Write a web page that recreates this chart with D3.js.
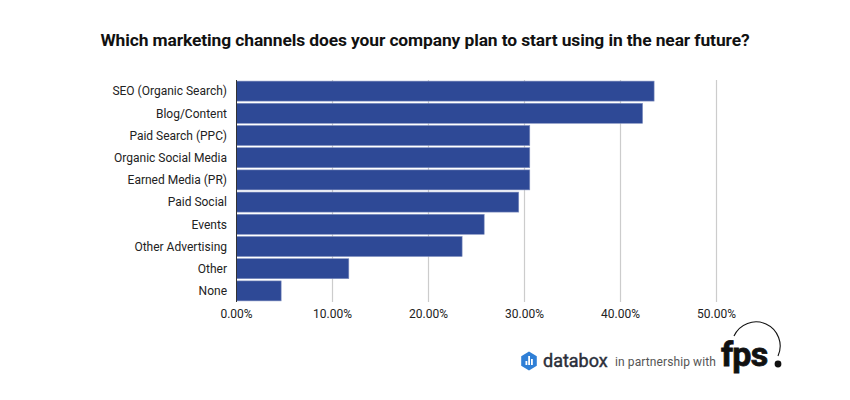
<!DOCTYPE html>
<html>
<head>
<meta charset="utf-8">
<script src="https://cdn.jsdelivr.net/npm/d3@7"></script>
<style>
  body { margin: 0; background: #fff; }
  svg { display: block; font-family: Roboto, sans-serif; }
</style>
</head>
<body>
<svg id="chart" width="850" height="400"></svg>
<script>
const categories = ["SEO (Organic Search)", "Blog/Content", "Paid Search (PPC)", "Organic Social Media",
  "Earned Media (PR)", "Paid Social", "Events", "Other Advertising", "Other", "None"]
const values = [0.435, 0.423, 0.3055, 0.3055, 0.3055, 0.294, 0.258, 0.235, 0.117, 0.0465]
const ticks = [0, 0.1, 0.2, 0.3, 0.4, 0.5]

const svg = d3.select("#chart")
const x = d3.scaleLinear().domain([0, 0.5]).range([236.5, 716.5])
const y = d3.scaleBand().domain(categories).range([80, 302]).paddingInner(0.1).paddingOuter(0.05)

// title
svg.append("text")
  .attr("x", 425).attr("y", 46)
  .attr("text-anchor", "middle")
  .attr("font-size", 17.4).attr("font-weight", "bold").attr("fill", "#111")
  .attr("letter-spacing", -0.1)
  .text("Which marketing channels does your company plan to start using in the near future?")

// grid
svg.append("g").selectAll("line")
  .data(ticks.slice(1))
  .join("line")
  .attr("x1", d => x(d)).attr("x2", d => x(d))
  .attr("y1", 80).attr("y2", 302)
  .attr("stroke", "#ccc").attr("stroke-width", 1.2)

// bars
svg.append("g").selectAll("rect")
  .data(values)
  .join("rect")
  .attr("x", x(0))
  .attr("y", (d, i) => y(categories[i]))
  .attr("width", d => x(d) - x(0))
  .attr("height", y.bandwidth())
  .attr("fill", "#2e4996")
  .attr("stroke", "#7f8fbf").attr("stroke-width", 0.6)

// left axis line
svg.append("line")
  .attr("x1", x(0)).attr("x2", x(0)).attr("y1", 80).attr("y2", 302)
  .attr("stroke", "#333").attr("stroke-width", 1)

// category labels
svg.append("g").selectAll("text")
  .data(categories)
  .join("text")
  .attr("x", 227)
  .attr("y", d => y(d) + y.bandwidth() / 2)
  .attr("dy", "0.35em")
  .attr("text-anchor", "end")
  .attr("font-size", 12).attr("fill", "#222")
  .text(d => d)

// x tick labels
const fmt = d3.format(".2%")
svg.append("g").selectAll("text")
  .data(ticks)
  .join("text")
  .attr("x", d => x(d))
  .attr("y", 318)
  .attr("text-anchor", "middle")
  .attr("font-size", 12).attr("fill", "#222")
  .text(d => fmt(d))

// footer
const foot = svg.append("g")
const hex = d3.range(6).map(k => {
  const a = Math.PI / 3 * k + Math.PI / 6
  return [529 + 9 * Math.cos(a), 361 + 9.5 * Math.sin(a)]
})
foot.append("path").attr("d", d3.line()(hex) + "Z").attr("fill", "#2f7fd6")
;[[525.5, 361, 1.8, 4], [528.2, 356, 1.8, 9], [531, 359, 1.8, 6]].forEach(([bx, by, bw, bh]) => {
  foot.append("rect").attr("x", bx).attr("y", by).attr("width", bw).attr("height", bh).attr("fill", "#fff")
})
foot.append("text").attr("x", 543).attr("y", 367)
  .attr("font-size", 18).attr("fill", "#2b2f3a")
  .attr("stroke", "#2b2f3a").attr("stroke-width", 0.45)
  .text("databox")
foot.append("text").attr("x", 615).attr("y", 366)
  .attr("font-size", 12).attr("fill", "#555")
  .attr("letter-spacing", 0.1)
  .text("in partnership with")
foot.append("text").attr("x", 721).attr("y", 366)
  .attr("font-size", 34).attr("font-weight", "bold").attr("fill", "#111")
  .attr("stroke", "#111").attr("stroke-width", 0.8)
  .attr("letter-spacing", -0.8)
  .text("fps")
foot.append("circle").attr("cx", 778).attr("cy", 364).attr("r", 3.4).attr("fill", "#111")
foot.append("path")
  .attr("d", "M 734 336 A 22 22 0 0 1 778 356")
  .attr("fill", "none").attr("stroke", "#111").attr("stroke-width", 1.1)
</script>
</body>
</html>
